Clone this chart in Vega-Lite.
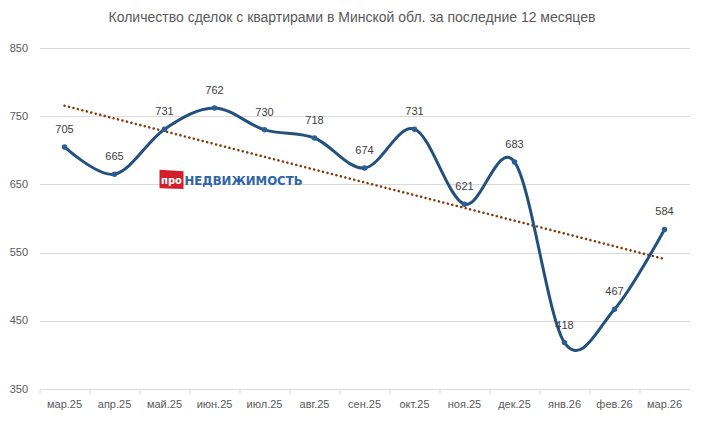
{
  "$schema": "https://vega.github.io/schema/vega-lite/v6.json",
  "width": 650,
  "height": 341,
  "autosize": {"type": "none"},
  "padding": {"left": 39.5, "top": 48, "right": 14.5, "bottom": 32},
  "background": "white",
  "title": {
    "text": "Количество сделок с квартирами в Минской обл. за последние 12 месяцев",
    "font": "Liberation Sans",
    "fontSize": 14,
    "fontWeight": "normal",
    "color": "#595959",
    "offset": 17,
    "dx": -12.5
  },
  "config": {
    "view": {"stroke": null},
    "font": "Liberation Sans"
  },
  "datasets": {
    "sales": [
      {"month": "мар.25", "value": 705},
      {"month": "апр.25", "value": 665},
      {"month": "май.25", "value": 731},
      {"month": "июн.25", "value": 762},
      {"month": "июл.25", "value": 730},
      {"month": "авг.25", "value": 718},
      {"month": "сен.25", "value": 674},
      {"month": "окт.25", "value": 731},
      {"month": "ноя.25", "value": 621},
      {"month": "дек.25", "value": 683},
      {"month": "янв.26", "value": 418},
      {"month": "фев.26", "value": 467},
      {"month": "мар.26", "value": 584}
    ],
    "trend": [
      {"month": "мар.25", "value": 765.4},
      {"month": "мар.26", "value": 540.6}
    ],
    "logo": [
      {"month": "май.25", "value": 657, "tag": "про", "name": "НЕДВИЖИМОСТЬ"}
    ]
  },
  "encoding": {
    "x": {
      "field": "month",
      "type": "nominal",
      "sort": null,
      "scale": {
        "type": "band",
        "domain": ["мар.25", "апр.25", "май.25", "июн.25", "июл.25", "авг.25", "сен.25", "окт.25", "ноя.25", "дек.25", "янв.26", "фев.26", "мар.26"],
        "paddingInner": 0,
        "paddingOuter": 0
      },
      "axis": {
        "title": null,
        "labelAngle": 0,
        "bandPosition": 0,
        "grid": false,
        "tickSize": 5,
        "tickColor": "#d9d9d9",
        "domainColor": "#d9d9d9",
        "labelColor": "#595959",
        "labelFontSize": 11,
        "labelPadding": 4
      }
    },
    "y": {
      "field": "value",
      "type": "quantitative",
      "scale": {"domain": [350, 850], "nice": false, "zero": false},
      "axis": {
        "title": null,
        "values": [350, 450, 550, 650, 750, 850],
        "domain": false,
        "ticks": false,
        "gridColor": "#d9d9d9",
        "labelColor": "#595959",
        "labelFontSize": 11,
        "labelPadding": 12
      }
    }
  },
  "layer": [
    {
      "data": {"name": "logo"},
      "mark": {
        "type": "point",
        "shape": "M-1,-0.82L1,-0.7L1,0.78L-1,0.72Z",
        "size": 576,
        "filled": true,
        "color": "#d21f2b",
        "opacity": 1,
        "xOffset": 7
      }
    },
    {
      "data": {"name": "logo"},
      "mark": {
        "type": "text",
        "color": "white",
        "font": "DejaVu Sans",
        "fontWeight": "bold",
        "fontSize": 10,
        "dx": 7,
        "dy": 1,
        "baseline": "middle",
        "align": "center"
      },
      "encoding": {"text": {"field": "tag"}}
    },
    {
      "data": {"name": "logo"},
      "mark": {
        "type": "text",
        "color": "#2f64a5",
        "font": "Liberation Sans Narrow, DejaVu Sans Condensed",
        "fontWeight": "bold",
        "fontSize": 13,
        "dx": 20,
        "dy": 1,
        "baseline": "middle",
        "align": "left"
      },
      "encoding": {"text": {"field": "name"}}
    },
    {
      "data": {"name": "trend"},
      "mark": {
        "type": "line",
        "color": "#843c0c",
        "strokeWidth": 2.5,
        "strokeDash": [0.1, 4.5],
        "strokeCap": "round"
      }
    },
    {
      "data": {"name": "sales"},
      "mark": {
        "type": "line",
        "interpolate": "cardinal",
        "color": "#24507e",
        "strokeWidth": 3
      }
    },
    {
      "data": {"name": "sales"},
      "mark": {
        "type": "point",
        "filled": true,
        "size": 30,
        "opacity": 1,
        "color": "#2b5f94"
      }
    },
    {
      "data": {"name": "sales"},
      "mark": {
        "type": "text",
        "dy": -17,
        "fontSize": 11,
        "color": "#404040",
        "baseline": "middle"
      },
      "encoding": {"text": {"field": "value", "type": "quantitative"}}
    }
  ]
}
